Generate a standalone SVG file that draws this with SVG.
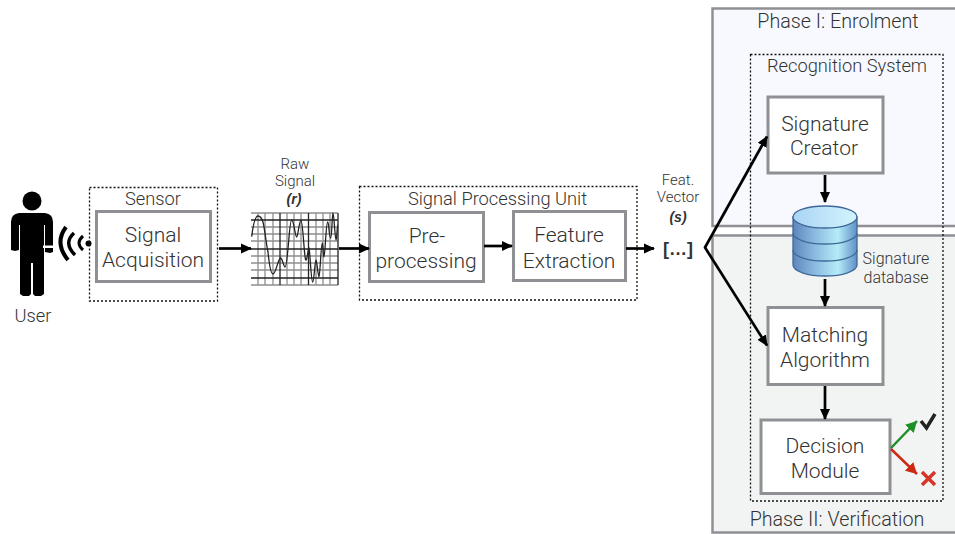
<svg xmlns="http://www.w3.org/2000/svg" width="955" height="534" viewBox="0 0 955 534">
<style>
text{font-family:Roboto,"Liberation Sans",Arial,sans-serif;font-weight:300;fill:#333;text-anchor:middle}
.b{font-size:21px}
.t{font-size:19.7px}
.h{font-size:18.300px}
.s{font-size:15px}
.box{fill:#fff;stroke:#8e9094;stroke-width:3}
.dash{fill:none;stroke:#111;stroke-width:1.3;stroke-dasharray:2 2}
.phase{stroke:#8e9094;stroke-width:2.5}
.c{fill:none;stroke:#000;stroke-width:2.700}
.g{stroke:#8f8f8f;stroke-width:1.300}
.gd{stroke:#222;stroke-width:1.300}
.bi{font-family:"Liberation Sans",Arial,sans-serif;font-size:14px;font-weight:700;font-style:italic}
</style>
<defs>
<marker id="ah" markerUnits="userSpaceOnUse" markerWidth="14" markerHeight="14" refX="10" refY="6" orient="auto"><path d="M0 1L11 6L0 11z" fill="#000"/></marker>
<marker id="ahg" markerUnits="userSpaceOnUse" markerWidth="14" markerHeight="14" refX="11" refY="6" orient="auto"><path d="M0 0L11 6L0 12z" fill="#1d8f26"/></marker>
<marker id="ahr" markerUnits="userSpaceOnUse" markerWidth="14" markerHeight="14" refX="11" refY="6" orient="auto"><path d="M0 0L11 6L0 12z" fill="#cc2a12"/></marker>
<linearGradient id="cyl" x1="0" x2="1" y1="0" y2="0"><stop offset="0" stop-color="#5d86bd"/><stop offset="0.3" stop-color="#86b4dc"/><stop offset="0.7" stop-color="#b5ecf8"/><stop offset="1" stop-color="#5f90c6"/></linearGradient>
<linearGradient id="cyltop" x1="0" x2="1" y1="0" y2="0"><stop offset="0" stop-color="#a9d4f4"/><stop offset="1" stop-color="#d3f4fd"/></linearGradient>
</defs>

<g id="phase1"><rect class="phase" x="712.500" y="8.500" width="260" height="217.500" fill="#f8f9ff"/><text class="t" x="838" y="28">Phase I: Enrolment</text></g>
<g id="phase2"><rect class="phase" x="712.500" y="235.500" width="260" height="297" fill="#f2f4f4"/><text class="t" x="837" y="526">Phase II: Verification</text></g>
<g id="recognition"><rect class="dash" x="750.500" y="54.500" width="192.500" height="446.500"/><text class="h" x="847" y="72">Recognition System</text></g>

<g id="user">
<circle cx="32" cy="201" r="9.500" fill="#000"/>
<path d="M19 213H45Q53 214 53 222V252L50 253L45 252V225H44V294L41 296H35L33 294V263H31V294L29 296H23L20 294V225H19V250L15 251L11 250V222Q11 214 19 213Z" fill="#000"/>
<rect x="43" y="245.500" width="11.500" height="2.500" fill="#fff"/>
<text class="h" x="33" y="322">User</text>
<path d="M66 227Q54 243 68 260" fill="none" stroke="#000" stroke-width="4"/>
<path d="M74 233Q63 243 75 255" fill="none" stroke="#000" stroke-width="3.500"/>
<path d="M83 236Q75 243 83 250" fill="none" stroke="#000" stroke-width="3"/>
<circle cx="88.500" cy="243.500" r="3" fill="#000"/>
</g>

<g id="sensor"><rect class="dash" x="89.500" y="187.500" width="128" height="113.500"/><text class="h" x="153" y="205">Sensor</text></g>
<g id="acquisition"><rect class="box" x="96.500" y="211.500" width="114" height="70"/><text class="b" x="153" y="242">Signal</text><text class="b" x="153" y="267">Acquisition</text></g>

<g id="raw-signal">
<rect x="251" y="213" width="87" height="72" fill="#fff"/>
<path class="g" d="M251 213H338M251 227H338M251 234H338M251 241H338M251 256H338M251 263H338M251 270H338M251 285H338M258 213V285M265 213V285M273 213V285M287 213V285M294 213V285M301 213V285M316 213V285M323 213V285M330 213V285"/>
<path class="gd" d="M251 220H338M251 249H338M251 278H338M280 213V285M308.500 213V285M338 213V285"/>
<path d="M251.700 236.700C253 226 255 216 258 216C260 216 262 219 263 222C265 230 266 243 268 252C269 262 271 274 273 274C276 274 278 258 280.700 258C282 258 284 267 285 267C288 267 289 220 291.700 220C294 220 295 237 296.700 237C298 237 299 220.700 301 220.700C303 221 304 256 305.700 260C307 262 308 248 309 248C310 250 311 282 312.700 282C314 282 315 260 316 260C317 260 318 277 319 277C320 277 321 243 322.300 243C323 243 323 257 324 257C325 257 326 222 327.700 222C329 222 329 238 330.700 238C332 238 332 213 333 213C334 213 335 240 336 240C337 240 337 225 338 225" fill="none" stroke="#222" stroke-width="1.300"/>
<text class="s" x="295" y="169">Raw</text>
<text class="s" x="295" y="186">Signal</text>
<text class="bi" x="294" y="204">(r)</text>
</g>

<g id="spu"><rect class="dash" x="359.500" y="186.500" width="277.500" height="113.500"/><text class="h" x="497.500" y="205">Signal Processing Unit</text></g>
<g id="preprocessing"><rect class="box" x="369.500" y="212.500" width="114" height="69"/><text class="b" x="427" y="243">Pre-</text><text class="b" x="426" y="268">processing</text></g>
<g id="feature"><rect class="box" x="513.500" y="211.500" width="112" height="69"/><text class="b" x="569" y="242">Feature</text><text class="b" x="569" y="268">Extraction</text></g>

<g id="feature-vector">
<text class="s" x="678" y="185">Feat.</text>
<text class="s" x="678" y="202">Vector</text>
<text class="bi" x="678" y="222">(s)</text>
<text style="font-family:'Liberation Sans',Arial,sans-serif;font-size:18px;font-weight:700" x="678" y="255">[…]</text>
</g>

<g id="creator"><rect class="box" x="768" y="97" width="115" height="76"/><text class="b" x="825" y="131">Signature</text><text class="b" x="824" y="155">Creator</text></g>
<g id="database">
<path d="M793 217V265A32 11 0 0 0 857 265V217Z" fill="url(#cyl)" stroke="#3f6897" stroke-width="1.300"/>
<path d="M793 233A32 11 0 0 0 857 233M793 250A32 11 0 0 0 857 250" fill="none" stroke="#3f6897" stroke-width="1.300"/>
<ellipse cx="825" cy="217" rx="32" ry="11" fill="url(#cyltop)" stroke="#3f6897" stroke-width="1.300"/>
<text class="s" style="font-size:16px" x="896" y="264">Signature</text><text class="s" style="font-size:16px" x="896" y="283">database</text>
</g>
<g id="matching"><rect class="box" x="768" y="307.500" width="115" height="77"/><text class="b" x="825" y="342">Matching</text><text class="b" x="825" y="367">Algorithm</text></g>
<g id="decision"><rect class="box" x="761" y="420" width="129" height="73.500"/><text class="b" x="825" y="453">Decision</text><text class="b" x="825" y="478">Module</text></g>

<g id="connectors">
<path class="c" d="M219 248.500H251" marker-end="url(#ah)"/>
<path class="c" d="M339 248.500H369" marker-end="url(#ah)"/>
<path class="c" d="M484 246H512" marker-end="url(#ah)"/>
<path class="c" d="M626 248.500H654" marker-end="url(#ah)"/>
<path class="c" d="M704.700 248L767 136.500" marker-end="url(#ah)"/>
<path class="c" d="M704.700 247L767 345.500" marker-end="url(#ah)"/>
<path class="c" d="M825 175V202" marker-end="url(#ah)"/>
<path class="c" d="M825 279V306" marker-end="url(#ah)"/>
<path class="c" d="M825 386V419" marker-end="url(#ah)"/>
<path d="M891 448L917 421" fill="none" stroke="#1d8f26" stroke-width="2.500" marker-end="url(#ahg)"/>
<path d="M891 449L917 474" fill="none" stroke="#cc2a12" stroke-width="2.500" marker-end="url(#ahr)"/>
</g>

<g id="results">
<path d="M921 421L926.500 428L935 414" fill="none" stroke="#222" stroke-width="3.500"/>
<path d="M922 472L935 485M935 472L922 485" fill="none" stroke="#d8342a" stroke-width="3.500"/>
</g>
</svg>
